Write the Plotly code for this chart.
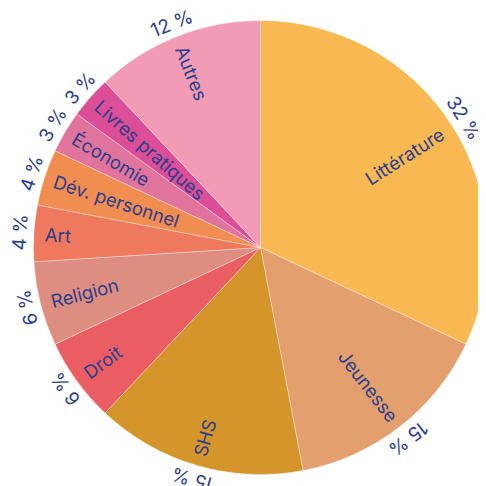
import math
import plotly.graph_objects as go

categories = ["Littérature", "Jeunesse", "SHS", "Droit", "Religion", "Art",
              "Dév. personnel", "Économie", "Livres pratiques", "Autres"]
values = [32, 15, 15, 6, 6, 4, 4, 3, 3, 12]
pct_labels = ["32 %", "15 %", "15 %", "6 %", "6 %", "4 %", "4 %", "3 %", "3 %", "12 %"]
colors = ["#F9B952", "#E3A06E", "#D4952B", "#EA5E63", "#DE8E80", "#EF795F",
          "#F18D51", "#E0749C", "#DC4F98", "#F19CB4"]

W = H = 486
TEXT_COLOR = "#2D3E8C"
FONT = "Inter"
FS_LABEL = 18.5
FS_PCT = 19

# pie geometry in figure pixels (page has an 8px body margin)
cx, cy, R = 252.5, 239.5, 227.0
dom_x = [(cx - R) / W, min(1.0, (cx + R) / W)]
dom_y = [(H - (cy + R)) / H, (H - (cy - R)) / H]

fig = go.Figure(go.Pie(
    labels=categories,
    values=values,
    marker=dict(colors=colors, line=dict(color="rgba(255,255,255,0.55)", width=0.6)),
    sort=False,
    direction="clockwise",
    rotation=0,
    textinfo="none",
    domain=dict(x=dom_x, y=dom_y),
    showlegend=False,
    hoverinfo="label+percent",
))

# rough glyph advance widths (em) for text length estimation
CW = {"L": 0.52, "i": 0.25, "t": 0.36, "é": 0.56, "e": 0.56, "r": 0.39, "a": 0.55,
      "u": 0.58, "J": 0.50, "n": 0.58, "s": 0.51, "S": 0.62, "H": 0.73, "D": 0.70,
      "o": 0.58, "R": 0.63, "l": 0.25, "g": 0.58, "A": 0.68, "v": 0.53, ".": 0.26,
      " ": 0.28, "p": 0.59, "É": 0.56, "c": 0.54, "m": 0.87, "q": 0.59}


def text_len(s, size):
    return sum(CW.get(ch, 0.56) for ch in s) * size


def to_paper(px, py):
    return px / W, 1 - py / H


total = sum(values)
cum = 0.0
label_out = R - 11      # outer end of category labels
pct_r = R + 14          # centre of percentage labels
for name, v, t in zip(categories, values, pct_labels):
    mid = (cum + v / 2) / total * 360.0
    cum += v
    a = math.radians(mid)
    sx, sy = math.sin(a), -math.cos(a)

    # percentage, tangential (clockwise)
    x, y = to_paper(cx + pct_r * sx, cy + pct_r * sy)
    fig.add_annotation(
        x=x, y=y, xref="paper", yref="paper", text=t, showarrow=False,
        textangle=mid, xanchor="center", yanchor="middle",
        font=dict(family=FONT, size=FS_PCT, color=TEXT_COLOR),
    )

    # category label, radial, kept readable
    rot = mid - 90 if mid <= 180 else mid - 270
    rc = label_out - text_len(name, FS_LABEL) / 2
    x, y = to_paper(cx + rc * sx, cy + rc * sy)
    fig.add_annotation(
        x=x, y=y, xref="paper", yref="paper", text=name, showarrow=False,
        textangle=rot, xanchor="center", yanchor="middle",
        font=dict(family=FONT, size=FS_LABEL, color=TEXT_COLOR),
    )

fig.update_layout(
    width=W, height=H,
    margin=dict(l=0, r=0, t=0, b=0),
    paper_bgcolor="white",
    plot_bgcolor="white",
)

fig.write_html("out.html")
